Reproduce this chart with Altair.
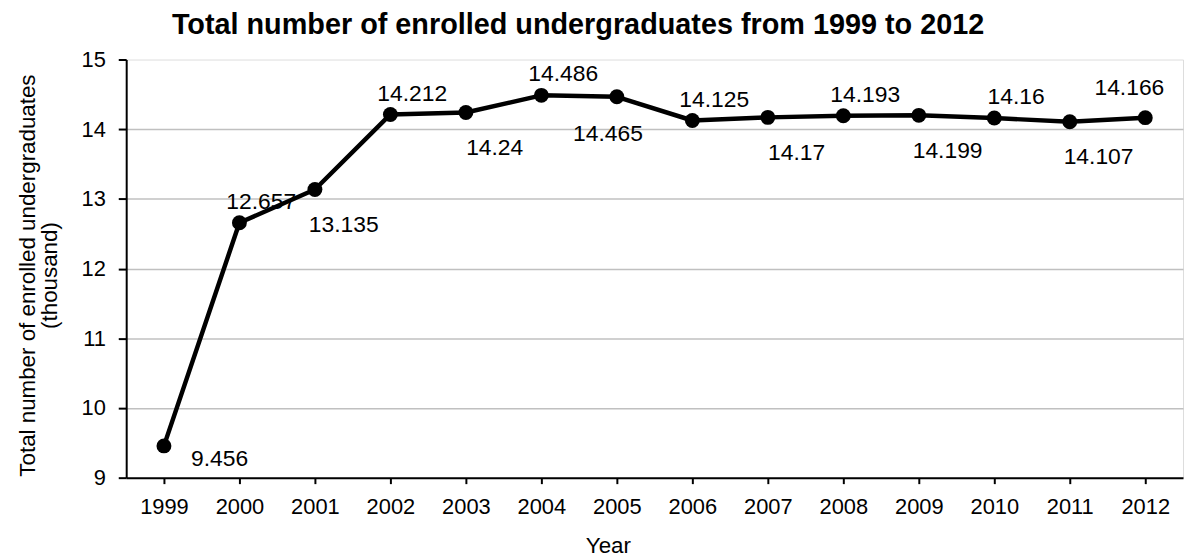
import altair as alt
import pandas as pd

years = ["1999", "2000", "2001", "2002", "2003", "2004", "2005",
         "2006", "2007", "2008", "2009", "2010", "2011", "2012"]
values = [9.456, 12.657, 13.135, 14.212, 14.24, 14.486, 14.465,
          14.125, 14.17, 14.193, 14.199, 14.16, 14.107, 14.166]
label_pos = ["right", "above", "below", "above", "below", "above", "below-left",
             "above", "below", "above", "below", "above", "below", "above-left"]
y_ticks = [9, 10, 11, 12, 13, 14, 15]
title_text = ["Total number of enrolled undergraduates from 1999 to 2012"]

df = pd.DataFrame({
    "Year": years,
    "Value": values,
    "Label": [str(v) for v in values],
    "Pos": label_pos,
})

FONT = "Liberation Sans, Arial, Helvetica, sans-serif"

x_enc = alt.X(
    "Year:N",
    sort=years,
    scale=alt.Scale(type="point", padding=0.5),
    axis=alt.Axis(
        title="Year", labelAngle=0, labelFontSize=22, labelColor="black",
        labelFont=FONT, labelPadding=13.5, tickSize=6, tickColor="black",
        tickWidth=2, domainColor="black", domainWidth=2, grid=False,
        titleFontSize=22.5, titleFontWeight="normal", titleFont=FONT,
        titleColor="black", titleX=485, titleY=75, titleBaseline="alphabetic",
        titleAlign="center",
    ),
)

y_enc = alt.Y(
    "Value:Q",
    scale=alt.Scale(domain=[9, 15], nice=False, zero=False),
    axis=alt.Axis(
        values=y_ticks,
        title=["Total number of enrolled undergraduates", "(thousand)"],
        labelFontSize=22, labelColor="black", labelFont=FONT, labelPadding=13,
        tickSize=8, tickColor="black", tickWidth=2,
        domainColor="black", domainWidth=2,
        grid=True, gridColor="#c0c0c0", gridWidth=1.5,
        gridOpacity={"condition": {"test": "datum.value === 9 || datum.value === 15", "value": 0}, "value": 1},
        titleFontSize=22.5, titleFontWeight="normal", titleFont=FONT,
        titleColor="black", titleAngle=270, titleX=-92, titleY=217,
        titleBaseline="alphabetic", titleAlign="center", titleLineHeight=22,
    ),
)

base = alt.Chart(df).encode(x=x_enc, y=y_enc)

line = base.mark_line(color="black", strokeWidth=4.5, strokeJoin="round")
points = base.mark_circle(color="black", size=225, opacity=1)

placements = {
    "right": (56, 20),
    "above": (22, -14),
    "above-left": (-16, -23),
    "below": (29, 43),
    "below-left": (-9, 44),
}

layers = [line, points]
for pos, (dx, dy) in placements.items():
    layers.append(
        base.transform_filter(alt.datum.Pos == pos)
        .mark_text(dx=dx, dy=dy, fontSize=23, font=FONT, color="black",
                   align="center", baseline="alphabetic")
        .encode(text="Label:N")
    )

title_layer = alt.Chart(pd.DataFrame({"t": title_text})).mark_text(
    align="left", baseline="alphabetic", fontSize=29, fontWeight="bold",
    font=FONT, color="black",
).encode(x=alt.value(46), y=alt.value(-26), text="t:N")
layers.append(title_layer)

chart = alt.layer(*layers).properties(
    width=1064,
    height=421,
    autosize=alt.AutoSizeParams(type="none"),
    padding={"left": 119, "top": 50, "right": 1, "bottom": 79},
).configure_view(stroke="black", strokeWidth=2).configure(background="white")

chart.save("out.html", embed_options={"renderer": "svg", "actions": False})
